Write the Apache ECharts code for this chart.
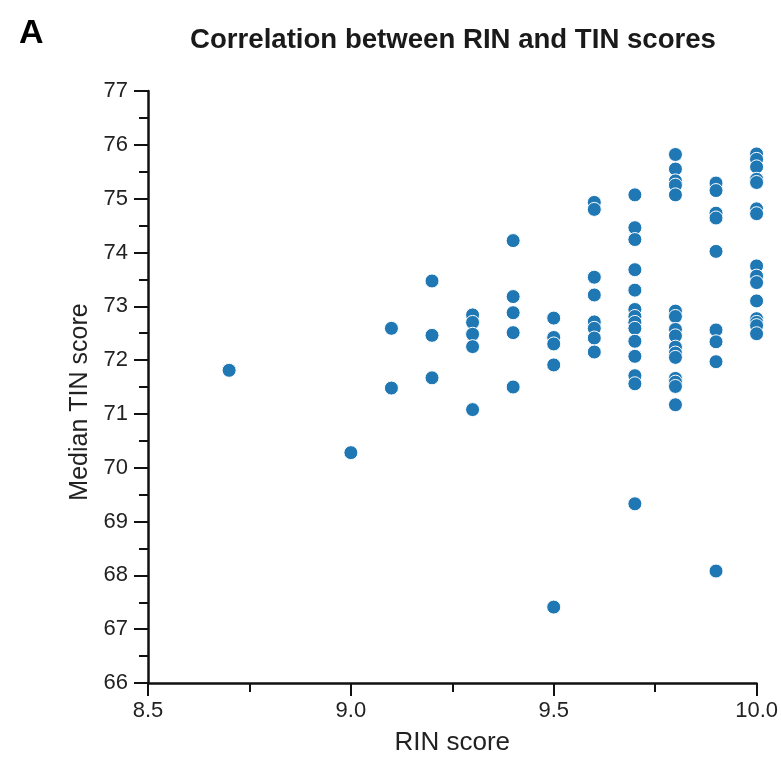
<!DOCTYPE html>
<html>
<head>
<meta charset="utf-8">
<script src="https://cdn.jsdelivr.net/npm/echarts@6/dist/echarts.min.js"></script>
<style>html,body{margin:0;padding:0;background:#fff}#c{width:781px;height:761px}</style>
</head>
<body>
<div id="c"></div>
<script>
const rin8_7 = [71.81];
const rin9_0 = [70.28];
const rin9_1 = [72.59, 71.48];
const rin9_2 = [73.47, 72.46, 71.67];
const rin9_3 = [72.84, 72.70, 72.48, 72.25, 71.08];
const rin9_4 = [74.22, 73.18, 72.88, 72.51, 71.50];
const rin9_5 = [72.78, 72.42, 72.30, 71.91, 67.41];
const rin9_6 = [74.93, 74.80, 73.54, 73.21, 72.71, 72.59, 72.41, 72.15];
const rin9_7 = [75.07, 74.46, 74.24, 73.68, 73.30, 72.94, 72.81, 72.70, 72.59, 72.35, 72.07, 71.71, 71.56, 69.33];
const rin9_8 = [75.82, 75.55, 75.33, 75.25, 75.07, 72.91, 72.81, 72.57, 72.45, 72.24, 72.13, 72.05, 71.66, 71.59, 71.51, 71.17];
const rin9_9 = [75.29, 75.15, 74.73, 74.64, 74.02, 72.56, 72.34, 71.97, 68.08];
const rin10_0 = [75.83, 75.73, 75.59, 75.36, 75.30, 74.81, 74.72, 73.75, 73.56, 73.44, 73.10, 72.77, 72.70, 72.64, 72.49];

const rinValues = [8.7, 9.0, 9.1, 9.2, 9.3, 9.4, 9.5, 9.6, 9.7, 9.8, 9.9, 10.0];
const tinGroups = [rin8_7, rin9_0, rin9_1, rin9_2, rin9_3, rin9_4, rin9_5, rin9_6, rin9_7, rin9_8, rin9_9, rin10_0];

const points = [];
rinValues.forEach((r, i) => tinGroups[i].forEach(t => points.push([r, t])));

const font = 'Liberation Sans, Arial, sans-serif';
const chart = echarts.init(document.getElementById('c'), null, {renderer: 'canvas'});
chart.setOption({
  animation: false,
  backgroundColor: '#fff',
  title: [
    {text: 'Correlation between RIN and TIN scores', left: 448, top: 21, textAlign: 'center',
     textStyle: {fontFamily: font, fontWeight: 'bold', fontSize: 27.6, color: '#1a1a1a'}},
    {text: 'A', left: 14, top: 12, textStyle: {fontFamily: font, fontWeight: 'bold', fontSize: 34, color: '#000'}}
  ],
  grid: {left: 148, right: 23, top: 91, bottom: 76, containLabel: false},
  xAxis: {
    type: 'value', min: 8.5, max: 10.0, interval: 0.5,
    name: 'RIN score', nameLocation: 'middle', nameGap: 47,
    nameTextStyle: {fontFamily: font, fontSize: 26, color: '#222'},
    axisLine: {onZero: false, lineStyle: {color: '#111', width: 2.5}},
    axisTick: {show: true, length: 13, lineStyle: {color: '#111', width: 2}},
    minorTick: {show: true, splitNumber: 2, length: 9, lineStyle: {color: '#111', width: 2}},
    axisLabel: {fontFamily: font, fontSize: 22, color: '#222', margin: 17, formatter: v => v.toFixed(1)},
    splitLine: {show: false}
  },
  yAxis: {
    type: 'value', min: 66, max: 77, interval: 1,
    name: 'Median TIN score', nameLocation: 'middle', nameGap: 54,
    nameTextStyle: {fontFamily: font, fontSize: 25, color: '#222', padding: [0, 30, 0, 0]},
    axisLine: {onZero: false, lineStyle: {color: '#111', width: 2.5}},
    axisTick: {show: true, length: 14, lineStyle: {color: '#111', width: 2}},
    minorTick: {show: true, splitNumber: 2, length: 9, lineStyle: {color: '#111', width: 2}},
    axisLabel: {fontFamily: font, fontSize: 22, color: '#222', margin: 20},
    splitLine: {show: false}
  },
  series: [{
    type: 'scatter', data: points, symbol: 'circle', symbolSize: 14,
    itemStyle: {color: '#1f77b4', borderColor: '#fff', borderWidth: 1, opacity: 1}
  }]
});
</script>
</body>
</html>
